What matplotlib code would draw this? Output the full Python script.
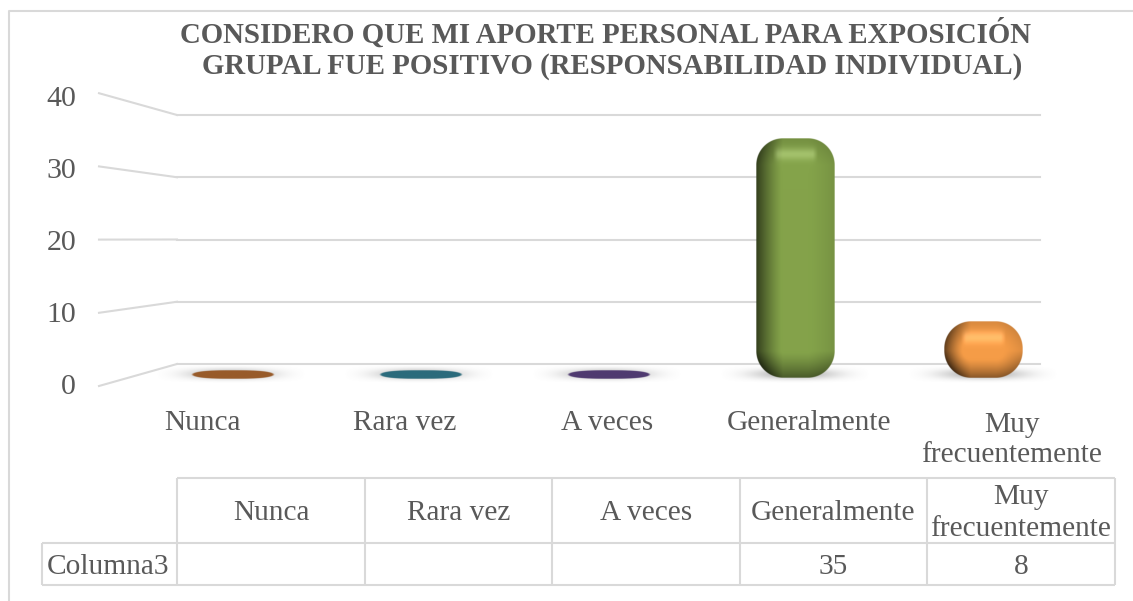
import numpy as np
import matplotlib
matplotlib.use("Agg")
import matplotlib.pyplot as plt
from matplotlib.colors import to_rgb

categories = ["Nunca", "Rara vez", "A veces", "Generalmente", "Muy\nfrecuentemente"]
values = [0, 0, 0, 35, 8]
table_row = ["", "", "", "35", "8"]
row_label = "Columna3"
y_ticks = [0, 10, 20, 30, 40]
title_lines = ["CONSIDERO QUE MI APORTE PERSONAL PARA EXPOSICIÓN",
               "GRUPAL FUE POSITIVO (RESPONSABILIDAD INDIVIDUAL)"]
bar_colors = ["#985B2A", "#2B6B7C", "#4F3A70", "#84A34A", "#F59C47"]

W, H = 1133, 601
GREY = "#595959"
LINE = "#D9D9D9"
plt.rcParams["font.family"] = ["Liberation Serif", "DejaVu Serif"]

fig = plt.figure(figsize=(W / 100, H / 100), dpi=100)


def axes_px(x0, x1, y_top, y_bot, **kw):
    ax = fig.add_axes([x0 / W, 1 - y_bot / H, (x1 - x0) / W, (y_bot - y_top) / H], **kw)
    ax.patch.set_alpha(0)
    return ax


# back wall of the 3d chart
wall = axes_px(177, 1040, 115, 364)
wall.set_ylim(0, 40)
wall.set_yticks(y_ticks)
wall.set_xticks([])
wall.tick_params(left=False, labelleft=False)
wall.grid(axis="y", color=LINE, lw=1.5, clip_on=False)
for s in wall.spines.values():
    s.set_visible(False)

# bars, scale sits between the back wall and the front edge
bar_w_px, px_per_x, px_per_y = 79, 188, 6.8
bars = axes_px(231 - 94, 983 + 94, 376 - 40 * px_per_y, 376)
bars.set_xlim(-0.5, 4.5)
bars.set_ylim(0, 40)
bars.axis("off")


def shadow(ax, i):
    hw, hh = 76 / px_per_x, 9 / px_per_y
    yy, xx = np.mgrid[-1:1:60j, -1:1:200j]
    # fades to nothing at the edges of the image
    a = np.exp(-(xx * 1.5) ** 2 - (yy * 1.4) ** 2) * (1 - xx ** 2) * (1 - yy ** 2) * 0.62
    img = np.zeros(a.shape + (4,))
    img[..., :3] = 0.5
    img[..., 3] = a
    ax.imshow(img, extent=[i - hw, i + hw, 2 / px_per_y - hh, 2 / px_per_y + hh], aspect="auto", zorder=1,
              clip_on=False)


def rounded_bar(ax, i, value, color, r=27):
    w, h = bar_w_px, value * px_per_y + 2
    r = min(r, h / 2 - 1)
    s = 3
    ys, xs = np.mgrid[0:int(h * s), 0:int(w * s)]
    x = (xs + 0.5) / s - w / 2
    y = h / 2 - (ys + 0.5) / s
    qx, qy = np.abs(x) - (w / 2 - r), np.abs(y) - (h / 2 - r)
    ox, oy = np.maximum(qx, 0), np.maximum(qy, 0)
    d = r - np.hypot(ox, oy) - np.minimum(np.maximum(qx, qy), 0)
    # outward direction of the bevel
    ln = np.maximum(np.hypot(ox, oy), 1e-6)
    nx, ny = ox / ln * np.sign(x), oy / ln * np.sign(y)
    flat = (ox == 0) & (oy == 0)
    nx[flat], ny[flat] = 0, 0
    bev = np.clip(1 - d / min(26, h / 3), 0, 1) ** 1.25
    m = 1 + bev * (-0.62 * np.maximum(-nx, 0) - 0.1 * np.maximum(nx, 0)
                   - 0.45 * np.maximum(-ny, 0) - 0.12 * np.maximum(ny, 0))
    # highlight band near the top
    band = np.exp(-((h / 2 - y - 16) / 6) ** 2) * np.clip((w / 2 - np.abs(x) - 17) / 5, 0, 1)
    rgb = np.clip(np.array(to_rgb(color))[None, None, :] * m[..., None] + 0.14 * band[..., None], 0, 1)
    img = np.dstack([rgb, np.clip(d * 1.5, 0, 1)])
    hx = w / 2 / px_per_x
    ax.imshow(img, extent=[i - hx, i + hx, -2 / px_per_y, value], aspect="auto", zorder=3,
              interpolation="antialiased", clip_on=False)


def flat_bar(ax, i, color):
    yy, xx = np.mgrid[-1:1:40j, -1:1:240j]
    sup = np.abs(xx) ** 3 + yy ** 2
    img = np.zeros(sup.shape + (4,))
    img[..., :3] = to_rgb(color)
    img[..., 3] = np.clip((1 - sup) * 6, 0, 1)
    hx = 42 / px_per_x
    ax.imshow(img, extent=[i + 2 / px_per_x - hx, i + 2 / px_per_x + hx, -3 / px_per_y, 6 / px_per_y],
              aspect="auto", zorder=3, clip_on=False)


for i, (v, c) in enumerate(zip(values, bar_colors)):
    shadow(bars, i)
    if v == 0:
        flat_bar(bars, i, c)
    else:
        rounded_bar(bars, i, v, c)
bars.set_xlim(-0.5, 4.5)
bars.set_ylim(0, 40)

# everything else on a pixel layer
top = axes_px(0, W, 0, H)
top.set_xlim(0, W)
top.set_ylim(H, 0)
top.axis("off")

top.plot([9, 9, W], [H, 11, 11], color=LINE, lw=1.5)
top.text(605.5, 34, title_lines[0], ha="center", va="center", fontsize=20.8, fontweight="bold", color=GREY)
top.text(612, 67, title_lines[1], ha="center", va="center", fontsize=20.8, fontweight="bold", color=GREY)

for t in y_ticks:
    front = 386 - t * 7.32
    back = 364 - t * 6.225
    top.plot([99, 177], [front, back], color=LINE, lw=1.5)
    top.text(76, 387.5 - t * 7.22, str(t), ha="right", va="center", fontsize=21.5, color=GREY)

label_x = [202 + 202.5 * i for i in range(5)]
for x, c in zip(label_x, categories):
    top.text(x, 423 if "\n" not in c else 440, c, ha="center", va="center", fontsize=21.2, color=GREY,
             linespacing=1.22)

# data table
col_x = [177, 365, 552, 740, 927, 1115]
y0, y1, y2 = 478, 543, 585
top.hlines(y0, col_x[0], col_x[-1], color=LINE, lw=1.5)
top.hlines([y1, y2], 42, col_x[-1], color=LINE, lw=1.5)
top.vlines(col_x, y0, y2, color=LINE, lw=1.5)
top.vlines(42, y1, y2, color=LINE, lw=1.5)
top.text(108, (y1 + y2) / 2 + 3, row_label, ha="center", va="center", fontsize=21.2, color=GREY)
for i, c in enumerate(categories):
    xc = (col_x[i] + col_x[i + 1]) / 2
    top.text(xc, (y0 + y1) / 2 + 3, c, ha="center", va="center", fontsize=21.2, color=GREY, linespacing=1.3)
    top.text(xc, (y1 + y2) / 2 + 3, table_row[i], ha="center", va="center", fontsize=21.2, color=GREY)

fig.savefig("out.png", dpi=100)
